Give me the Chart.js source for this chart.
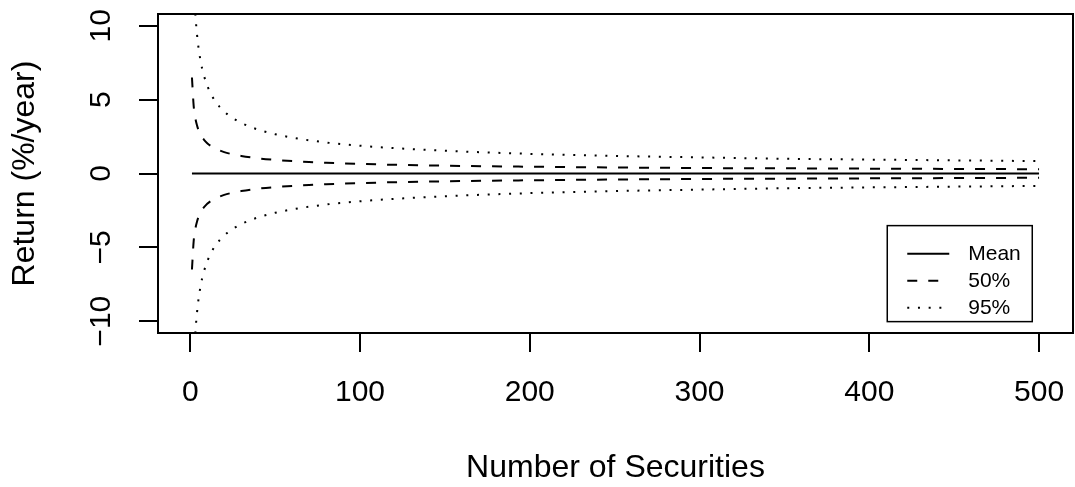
<!DOCTYPE html>
<html>
<head>
<meta charset="utf-8">
<script src="https://cdn.jsdelivr.net/npm/chart.js@4.4.1/dist/chart.umd.min.js"></script>
<style>
  html, body { margin: 0; padding: 0; background: #fff; }
  #wrap { width: 1075px; height: 487px; }
</style>
</head>
<body>
<div id="wrap"><canvas id="chart" width="1075" height="487"></canvas></div>
<script>
// number of securities in the portfolio
const nSec = [1, 2, 3, 4, 5, 6, 7, 8, 10, 12, 15, 20, 25, 30, 40, 50, 60, 70, 80, 100, 120, 150, 200, 250, 300, 350, 400, 450, 500];
const meanRet = [0, 0, 0, 0, 0, 0, 0, 0, 0, 0, 0, 0, 0, 0, 0, 0, 0, 0, 0, 0, 0, 0, 0, 0, 0, 0, 0, 0, 0];
const upper50 = [6.5, 4.6, 3.75, 3.25, 2.9, 2.65, 2.45, 2.3, 2.05, 1.87, 1.68, 1.45, 1.3, 1.19, 1.03, 0.92, 0.84, 0.78, 0.73, 0.65, 0.59, 0.53, 0.46, 0.41, 0.37, 0.35, 0.33, 0.31, 0.29];
const lower50 = [-6.5, -4.6, -3.75, -3.25, -2.9, -2.65, -2.45, -2.3, -2.05, -1.87, -1.68, -1.45, -1.3, -1.19, -1.03, -0.92, -0.84, -0.78, -0.73, -0.65, -0.59, -0.53, -0.46, -0.41, -0.37, -0.35, -0.33, -0.31, -0.29];
const upper95 = [18.8, 13.3, 10.85, 9.4, 8.4, 7.68, 7.1, 6.65, 5.95, 5.43, 4.85, 4.2, 3.76, 3.43, 2.97, 2.66, 2.43, 2.25, 2.1, 1.88, 1.72, 1.54, 1.33, 1.19, 1.09, 1.0, 0.94, 0.89, 0.84];
const lower95 = [-18.8, -13.3, -10.85, -9.4, -8.4, -7.68, -7.1, -6.65, -5.95, -5.43, -4.85, -4.2, -3.76, -3.43, -2.97, -2.66, -2.43, -2.25, -2.1, -1.88, -1.72, -1.54, -1.33, -1.19, -1.09, -1.0, -0.94, -0.89, -0.84];

const xTicks = [0, 100, 200, 300, 400, 500];
const yTicks = [-10, -5, 0, 5, 10];
const legendLabels = ["Mean", "50%", "95%"];

const FONT = "'Liberation Sans', Arial, Helvetica, sans-serif";
const dashStyle = [10, 11];
const dotStyle = [2, 8.7];

function pts(ys) {
    return nSec.map((n, i) => ({ x: n, y: ys[i] }));
}

function lineSet(ys, dash, label) {
    return {
        label: label,
        data: pts(ys),
        borderColor: '#000',
        borderWidth: 2,
        borderDash: dash,
        pointRadius: 0,
        fill: false,
        cubicInterpolationMode: 'monotone'
    };
}

// box, tick labels, titles and legend drawn like base R
const rFrame = {
    id: 'rFrame',
    afterDraw(chart) {
        const ctx = chart.ctx;
        const a = chart.chartArea;
        const xs = chart.scales.x, ys = chart.scales.y;
        ctx.save();
        ctx.strokeStyle = '#000';
        ctx.lineWidth = 2;
        ctx.strokeRect(a.left, a.top, a.right - a.left, a.bottom - a.top);

        ctx.fillStyle = '#000';
        ctx.font = '30px ' + FONT;
        ctx.textAlign = 'center';
        ctx.textBaseline = 'middle';
        // x tick labels
        xTicks.forEach(v => {
            ctx.fillText(String(v), xs.getPixelForValue(v), 393);
        });
        // y tick labels (rotated)
        yTicks.forEach(v => {
            ctx.save();
            ctx.translate(102, ys.getPixelForValue(v));
            ctx.rotate(-Math.PI / 2);
            ctx.fillText(String(v).replace('-', '\u2212'), 0, 0);
            ctx.restore();
        });
        ctx.font = '32px ' + FONT;
        // y title
        ctx.save();
        ctx.translate(25, (a.top + a.bottom) / 2);
        ctx.rotate(-Math.PI / 2);
        ctx.fillText('Return (%/year)', 0, 0);
        ctx.restore();
        // x title
        ctx.fillText('Number of Securities', (a.left + a.right) / 2, 468);

        // legend
        const bx1 = xs.getPixelForValue(496), by2 = ys.getPixelForValue(-10.03);
        const bw = 145, bh = 96;
        const bx0 = bx1 - bw, by0 = by2 - bh;
        ctx.fillStyle = '#fff';
        ctx.fillRect(bx0, by0, bw, bh);
        ctx.lineWidth = 1.5;
        ctx.strokeRect(bx0, by0, bw, bh);
        const dashes = [[], dashStyle, dotStyle];
        ctx.font = '21px ' + FONT;
        ctx.textAlign = 'left';
        legendLabels.forEach((lab, i) => {
            const yy = by0 + 28 + i * 27;
            ctx.beginPath();
            ctx.setLineDash(dashes[i]);
            ctx.lineWidth = 2;
            ctx.moveTo(bx0 + 20, yy);
            ctx.lineTo(bx0 + 62, yy);
            ctx.stroke();
            ctx.setLineDash([]);
            ctx.fillStyle = '#000';
            ctx.fillText(lab, bx0 + 81, yy + 1);
        });
        ctx.restore();
    }
};

new Chart(document.getElementById('chart'), {
    type: 'line',
    data: {
        datasets: [
            lineSet(meanRet, [], 'Mean'),
            lineSet(upper50, dashStyle, '50%'),
            lineSet(lower50, dashStyle, '50% low'),
            lineSet(upper95, dotStyle, '95%'),
            lineSet(lower95, dotStyle, '95% low')
        ]
    },
    options: {
        responsive: false,
        animation: false,
        devicePixelRatio: 1,
        layout: { padding: { top: 14, right: 2, left: 0, bottom: 0 } },
        plugins: { legend: { display: false }, tooltip: { enabled: false } },
        scales: {
            x: {
                type: 'linear',
                min: -19,
                max: 520,
                afterBuildTicks: axis => { axis.ticks = xTicks.map(v => ({ value: v })); },
                afterFit: axis => { axis.height = 154; },
                grid: { drawOnChartArea: false, drawTicks: true, tickLength: 19, color: '#000', lineWidth: 2 },
                border: { display: false },
                ticks: { display: false }
            },
            y: {
                type: 'linear',
                min: -10.8,
                max: 10.8,
                afterBuildTicks: axis => { axis.ticks = yTicks.map(v => ({ value: v })); },
                afterFit: axis => { axis.width = 158; },
                grid: { drawOnChartArea: false, drawTicks: true, tickLength: 19, color: '#000', lineWidth: 2 },
                border: { display: false },
                ticks: { display: false }
            }
        }
    },
    plugins: [rFrame]
});
</script>
</body>
</html>
